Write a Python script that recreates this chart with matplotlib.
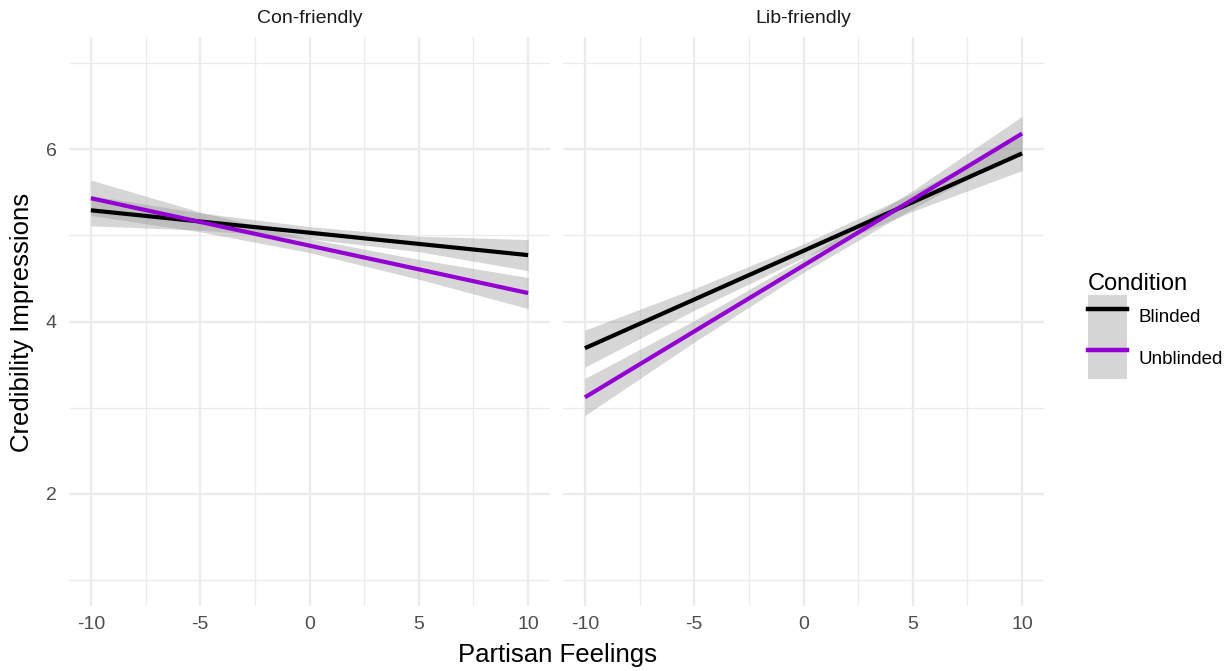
import matplotlib.pyplot as plt
from matplotlib.lines import Line2D
from matplotlib.patches import Patch
from matplotlib.ticker import FixedLocator

plt.rcParams["font.family"] = ["Liberation Sans", "DejaVu Sans"]

x_points = [-10, -5, 0, 5, 10]
panels = ["Con-friendly", "Lib-friendly"]
conditions = ["Blinded", "Unblinded"]

# Con-friendly panel
con_blinded_fit = [5.29, 5.16, 5.03, 4.90, 4.77]
con_blinded_lo = [5.11, 5.06, 4.96, 4.81, 4.59]
con_blinded_hi = [5.46, 5.26, 5.10, 4.99, 4.95]
con_unblinded_fit = [5.43, 5.155, 4.88, 4.605, 4.33]
con_unblinded_lo = [5.23, 5.04, 4.80, 4.49, 4.15]
con_unblinded_hi = [5.64, 5.27, 4.96, 4.72, 4.51]

# Lib-friendly panel
lib_blinded_fit = [3.69, 4.255, 4.82, 5.385, 5.95]
lib_blinded_lo = [3.47, 4.13, 4.74, 5.28, 5.75]
lib_blinded_hi = [3.90, 4.38, 4.90, 5.49, 6.15]
lib_unblinded_fit = [3.12, 3.885, 4.65, 5.415, 6.18]
lib_unblinded_lo = [2.91, 3.76, 4.57, 5.31, 5.98]
lib_unblinded_hi = [3.34, 4.01, 4.73, 5.52, 6.38]

data = {
    "Con-friendly": [(con_blinded_fit, con_blinded_lo, con_blinded_hi),
                     (con_unblinded_fit, con_unblinded_lo, con_unblinded_hi)],
    "Lib-friendly": [(lib_blinded_fit, lib_blinded_lo, lib_blinded_hi),
                     (lib_unblinded_fit, lib_unblinded_lo, lib_unblinded_hi)],
}

colors = ["black", "darkviolet"]
band_color = "#999999"
grid_color = "#EBEBEB"
text_color = "#4D4D4D"

fig = plt.figure(figsize=(12.28, 6.71), dpi=100)
fig.patch.set_facecolor("white")

W, H = 1228, 671
ax_bottom = 1 - 606 / H
ax_height = (606 - 37) / H
lefts = [69 / W, 563 / W]
width = (550 - 69) / W

axes = []
for i, panel in enumerate(panels):
    ax = fig.add_axes([lefts[i], ax_bottom, width, ax_height])
    axes.append(ax)
    for (fit, lo, hi), col in zip(data[panel], colors):
        ax.fill_between(x_points, lo, hi, color=band_color, alpha=0.4,
                        linewidth=0, zorder=2)
        ax.plot(x_points, fit, color=col, linewidth=3.0, zorder=3,
                solid_capstyle="butt")
    ax.set_xlim(-11, 11)
    ax.set_ylim(0.7, 7.3)
    ax.xaxis.set_major_locator(FixedLocator([-10, -5, 0, 5, 10]))
    ax.xaxis.set_minor_locator(FixedLocator([-7.5, -2.5, 2.5, 7.5]))
    ax.yaxis.set_major_locator(FixedLocator([2, 4, 6]))
    ax.yaxis.set_minor_locator(FixedLocator([1, 3, 5, 7]))
    ax.grid(which="major", color=grid_color, linewidth=1.6, zorder=0)
    ax.grid(which="minor", color=grid_color, linewidth=0.9, zorder=0)
    ax.set_axisbelow(True)
    for s in ax.spines.values():
        s.set_visible(False)
    ax.tick_params(which="both", length=0, labelsize=14,
                   labelcolor=text_color)
    ax.tick_params(axis="x", pad=7)
    ax.tick_params(axis="y", pad=9)
    ax.set_xticklabels(["-10", "-5", "0", "5", "10"])
    ax.set_title(panel, fontsize=14, color="#1A1A1A", pad=10)

axes[1].set_yticklabels([])

fig.text(22 / W, 1 - 322 / H, "Credibility Impressions", rotation=90,
         fontsize=18.5, ha="center", va="center", color="black")
fig.text(557 / W, 1 - 655 / H, "Partisan Feelings", fontsize=18.5,
         ha="center", va="center", color="black")

# legend: grey key boxes with coloured lines
handles = [(Patch(facecolor="#D6D6D6", edgecolor="none"),
            Line2D([], [], color=c, linewidth=3.2)) for c in colors]
leg = fig.legend(handles, conditions, loc="upper left",
                 bbox_to_anchor=(1080 / W, 1 - 266 / H),
                 frameon=False, title="Condition", title_fontsize=17,
                 fontsize=13.5, handlelength=2.12, handleheight=3.05,
                 labelspacing=0.0, handletextpad=0.6, borderaxespad=0,
                 alignment="left")

fig.savefig("out.png", dpi=100, facecolor="white")
